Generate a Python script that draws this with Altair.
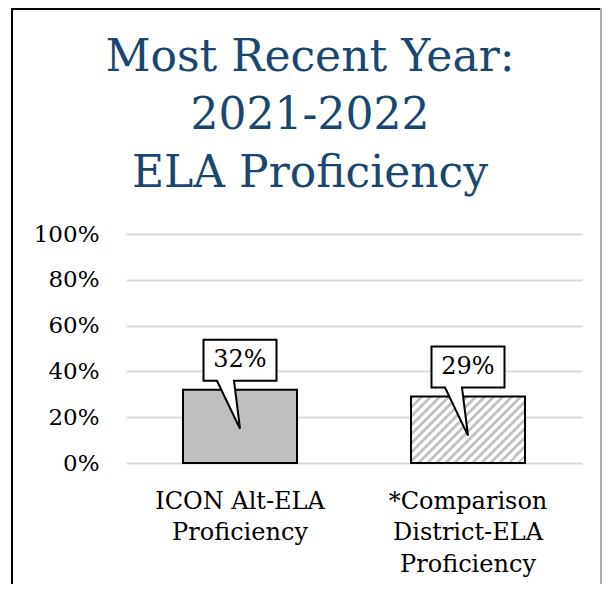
import altair as alt
import pandas as pd

# ---- data ----
categories = ["ICON Alt-ELA|Proficiency", "*Comparison|District-ELA|Proficiency"]
values = [0.32, 0.29]
y_ticks = [0, 0.2, 0.4, 0.6, 0.8, 1.0]
title_lines = ["Most Recent Year:", "2021-2022", "ELA Proficiency"]

df = pd.DataFrame({"cat": categories, "val": values})

FONT = "DejaVu Serif"

# hatch pattern via a hard-stop linear gradient (45 degree stripes)
N = 20
GRAY = "#c4c4c4"
stops = []
for p in range(N):
    a = p / N
    b = (p + 0.42) / N
    c = (p + 1) / N
    stops += [
        alt.GradientStop(offset=a, color=GRAY),
        alt.GradientStop(offset=b, color=GRAY),
        alt.GradientStop(offset=b, color="white"),
        alt.GradientStop(offset=c, color="white"),
    ]
hatch = alt.LinearGradient(gradient="linear", stops=stops, x1=0, y1=0, x2=1.182, y2=0.688)

x_enc = alt.X(
    "cat:N",
    sort=categories,
    scale=alt.Scale(paddingInner=0.5, paddingOuter=0.25),
    axis=alt.Axis(
        title=None,
        labelAngle=0,
        labelFont=FONT,
        labelFontSize=24,
        labelColor="black",
        labelPadding=26,
        labelLineHeight=31.5,
        labelExpr="split(datum.label, '|')",
        domain=False,
        ticks=False,
        grid=False,
    ),
)
y_enc = alt.Y(
    "val:Q",
    scale=alt.Scale(domain=[0, 1]),
    axis=alt.Axis(
        title=None,
        values=y_ticks,
        format=".0%",
        grid=True,
        gridColor="#d9d9d9",
        gridWidth=2,
        domain=False,
        ticks=False,
        labelFont=FONT,
        labelFontSize=23,
        labelColor="black",
        labelPadding=27,
    ),
)

base = alt.Chart(df)

bar1 = base.transform_filter(alt.datum.cat == categories[0]).mark_bar(
    fill="#bfbfbf", stroke="black", strokeWidth=2
).encode(x=x_enc, y=y_enc)

bar2 = base.transform_filter(alt.datum.cat == categories[1]).mark_bar(
    fill=hatch, stroke="black", strokeWidth=2
).encode(x=x_enc, y=y_enc)

callout_path = "M-0.73,-1 L0.73,-1 L0.73,-0.18 L-0.12,-0.18 L0,0.78 L-0.46,-0.18 L-0.73,-0.18 Z"
callout = base.mark_point(
    shape=callout_path, size=10000, filled=True, fill="white",
    stroke="black", strokeWidth=2, opacity=1,
).encode(x=alt.X("cat:N", sort=categories), y="val:Q")

labels = base.mark_text(
    font=FONT, fontSize=24, color="black", baseline="middle", dy=-30
).encode(x=alt.X("cat:N", sort=categories), y="val:Q", text=alt.Text("val:Q", format=".0%"))

frame_df = pd.DataFrame({"k": [0]})
frame_left = alt.Chart(frame_df).mark_rule(color="black", strokeWidth=2).encode(
    x=alt.value(-114), y=alt.value(-226), y2=alt.value(400))
frame_top = alt.Chart(frame_df).mark_rule(color="black", strokeWidth=2).encode(
    x=alt.value(-115), x2=alt.value(476), y=alt.value(-225))
frame_right = alt.Chart(frame_df).mark_rule(color="#b0b0b0", strokeWidth=2).encode(
    x=alt.value(475), y=alt.value(-226), y2=alt.value(400))

chart = alt.layer(
    bar1, bar2, callout, labels, frame_left, frame_top, frame_right
).properties(
    width=456,
    height=229,
    title=alt.TitleParams(
        text=title_lines,
        font=FONT,
        fontSize=44,
        fontWeight="normal",
        color="#1b4670",
        lineHeight=58,
        anchor="middle",
        frame="group",
        baseline="bottom",
        dx=-44,
        offset=-233,
    ),
    autosize=alt.AutoSizeParams(type="none"),
    padding={"left": 118, "top": 226, "right": 20, "bottom": 121},
).configure_view(stroke=None)

chart.save("out.html", embed_options={"renderer": "svg", "actions": False})
